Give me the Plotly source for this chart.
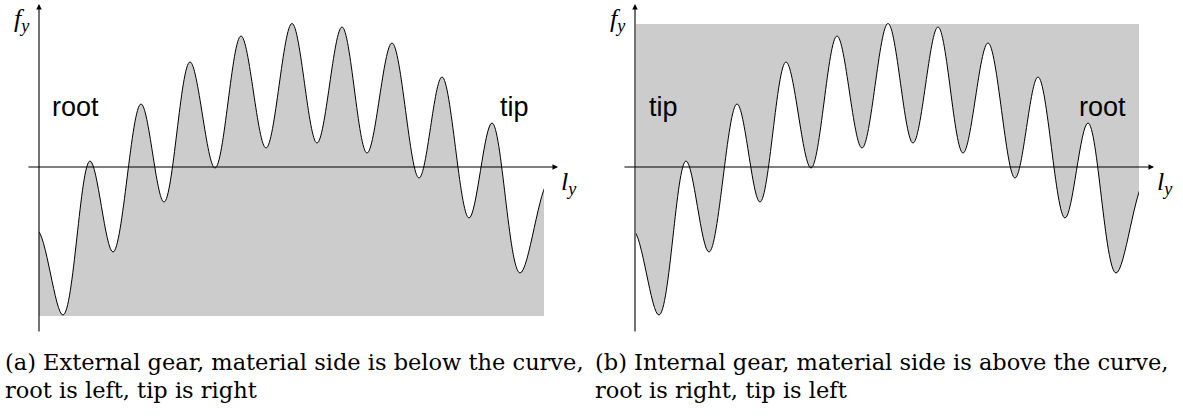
import plotly.graph_objects as go

# Tooth-flank profile f_y along l_y: alternating troughs/peaks of the wavy curve.
# The first two and last two entries lie just outside the drawn stretch [0, 10.10]
# and only shape the ends of the curve (they are clipped away).
l_y = [-0.56, -0.04, 0.48, 1.02, 1.48, 2.04, 2.50, 3.02, 3.52, 4.04, 4.54, 5.06,
       5.56, 6.06, 6.56, 7.06, 7.60, 8.06, 8.60, 9.06, 9.62, 10.20, 10.74]
f_y = [-2.90, -1.27, -2.96, 0.12, -1.70, 1.26, -0.70, 2.10, -0.02, 2.62, 0.38, 2.87,
       0.48, 2.80, 0.28, 2.48, -0.22, 1.80, -1.02, 0.88, -2.12, -0.30, -2.20]

# Material boundary levels
floor_level = -2.98   # external gear: material below the curve
top_level = 2.86      # internal gear: material above the curve

captions = [
    ["(a) External gear, material side is below the curve,", "root is left, tip is right"],
    ["(b) Internal gear, material side is above the curve,", "root is right, tip is left"],
]
side_labels = [("root", "tip"), ("tip", "root")]

W, H = 1183, 416
PX = 50.0          # pixels per data unit
AXIS_Y_PX = 167    # vertical pixel position of f_y = 0
ORIGIN_PX = [39, 635]           # horizontal pixel position of l_y = 0 in each panel
CURVE_SPAN_PX = [(39, 544), (636, 1139)]

FILL = "#cccccc"
SERIF = "DejaVu Serif"
MATH = "Liberation Serif"
SANS = "Liberation Sans"

fig = go.Figure()

# curve + material fill, drawn on axes whose domain is exactly the profile stretch
for i, (xa, level) in enumerate([("x3", floor_level), ("x4", top_level)]):
    fig.add_trace(go.Scatter(x=[l_y[0] - 0.3, l_y[-1] + 0.3], y=[level, level], xaxis=xa, yaxis="y",
                             mode="lines", line=dict(width=0, color=FILL),
                             hoverinfo="skip", showlegend=False))
    fig.add_trace(go.Scatter(x=l_y, y=f_y, xaxis=xa, yaxis="y", mode="lines",
                             line=dict(color="black", width=1, shape="spline", smoothing=1.0),
                             fill="tonexty", fillcolor=FILL,
                             hoverinfo="skip", showlegend=False))

annotations = []
for i, xa in enumerate(["x", "x2"]):
    # coordinate axes with arrow heads
    annotations.append(dict(x=10.38, y=0, ax=-0.24, ay=0, xref=xa, yref="y", axref=xa, ayref="y",
                            showarrow=True, arrowhead=2, arrowsize=1, arrowwidth=1.1,
                            arrowcolor="black", text=""))
    annotations.append(dict(x=0, y=3.26, ax=0, ay=-3.32, xref=xa, yref="y", axref=xa, ayref="y",
                            showarrow=True, arrowhead=2, arrowsize=1, arrowwidth=1.1,
                            arrowcolor="black", text=""))
    annotations.append(dict(x=-0.34, y=2.94, xref=xa, yref="y", showarrow=False,
                            text="<i>f</i><sub><i>y</i></sub>",
                            font=dict(family=MATH, size=26, color="black")))
    annotations.append(dict(x=10.6, y=-0.32, xref=xa, yref="y", showarrow=False,
                            text="<i>l</i><sub><i>y</i></sub>",
                            font=dict(family=MATH, size=26, color="black")))
    left_lbl, right_lbl = side_labels[i]
    lx = 0.73 if left_lbl == "root" else 0.56
    rx = 9.5 if right_lbl == "tip" else 9.35
    annotations.append(dict(x=lx, y=1.2, xref=xa, yref="y", showarrow=False, text=left_lbl,
                            font=dict(family=SANS, size=27, color="black")))
    annotations.append(dict(x=rx, y=1.2, xref=xa, yref="y", showarrow=False, text=right_lbl,
                            font=dict(family=SANS, size=27, color="black")))

# captions under each panel
for i, (line1, line2) in enumerate(captions):
    x0 = (3 if i == 0 else 593) / W
    for j, line in enumerate((line1, line2)):
        annotations.append(dict(x=x0, y=1 - (362 + 28 * j) / H, xref="paper", yref="paper",
                                xanchor="left", yanchor="middle", showarrow=False, text=line,
                                font=dict(family=SERIF, size=22.5, color="black")))


def x_axis(px0, px1, origin):
    return dict(domain=[px0 / W, px1 / W], range=[(px0 - origin) / PX, (px1 - origin) / PX],
                visible=False, fixedrange=True, anchor="y")


fig.update_layout(
    width=W, height=H,
    margin=dict(l=0, r=0, t=0, b=0),
    paper_bgcolor="white", plot_bgcolor="rgba(0,0,0,0)",
    xaxis=x_axis(0, 590, ORIGIN_PX[0]),
    xaxis2=x_axis(590, W, ORIGIN_PX[1]),
    xaxis3=x_axis(*CURVE_SPAN_PX[0], ORIGIN_PX[0]),
    xaxis4=x_axis(*CURVE_SPAN_PX[1], ORIGIN_PX[1]),
    yaxis=dict(domain=[0, 1], range=[(AXIS_Y_PX - H) / PX, AXIS_Y_PX / PX],
               visible=False, fixedrange=True),
    annotations=annotations,
    hovermode=False,
)

fig.write_html("out.html", config={"displayModeBar": False})
